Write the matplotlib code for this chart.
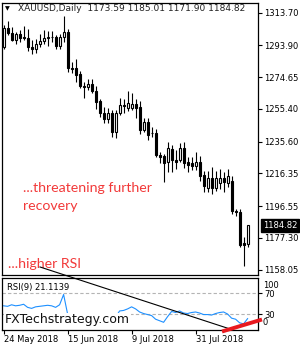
import numpy as np
import matplotlib
matplotlib.use("Agg")
import matplotlib.pyplot as plt

# --- XAUUSD daily, 24 May 2018 .. 17 Aug 2018 ---
opens = [1293.0, 1304.6, 1301.5, 1297.4, 1300.6, 1298.6, 1298.5, 1293.2, 1291.8, 1294.5,
         1296.8, 1298.1, 1298.9, 1298.7, 1293.5, 1298.9, 1302.2, 1280.5, 1280.0, 1276.5,
         1269.5, 1268.5, 1270.5, 1266.5, 1260.0, 1253.0, 1249.0, 1253.0, 1241.6, 1253.2,
         1258.0, 1256.0, 1256.2, 1258.6, 1256.5, 1242.5, 1247.5, 1241.0, 1241.0, 1227.5,
         1227.0, 1223.5, 1231.3, 1224.7, 1224.7, 1231.9, 1223.0, 1222.9, 1221.0, 1223.5,
         1215.5, 1207.5, 1213.5, 1207.5, 1210.5, 1213.5, 1210.5, 1211.5, 1193.5, 1193.0,
         1174.0, 1173.59]
highs = [1306.5, 1308.5, 1305.0, 1302.0, 1303.5, 1305.5, 1304.0, 1297.0, 1298.0, 1301.0,
         1303.0, 1302.5, 1302.5, 1300.5, 1301.0, 1311.5, 1304.0, 1284.0, 1285.5, 1278.5,
         1272.0, 1273.5, 1273.5, 1269.0, 1261.5, 1256.8, 1256.0, 1255.0, 1255.0, 1262.0,
         1261.5, 1266.5, 1265.0, 1261.5, 1260.0, 1250.0, 1250.0, 1244.5, 1243.0, 1229.0,
         1228.0, 1235.5, 1233.7, 1230.5, 1235.0, 1235.5, 1226.5, 1226.0, 1229.5, 1227.0,
         1218.0, 1218.0, 1220.0, 1218.0, 1219.0, 1217.4, 1219.0, 1214.5, 1195.0, 1195.0,
         1177.5, 1185.01]
lows = [1291.5, 1300.0, 1296.5, 1294.5, 1296.0, 1297.0, 1290.5, 1288.5, 1289.5, 1293.0,
        1295.0, 1293.5, 1296.0, 1291.5, 1292.0, 1296.0, 1277.5, 1277.0, 1271.5, 1268.0,
        1262.0, 1267.0, 1265.2, 1255.6, 1250.7, 1247.0, 1247.0, 1238.5, 1238.0, 1252.0,
        1253.0, 1254.0, 1255.0, 1250.0, 1240.5, 1241.5, 1236.8, 1238.5, 1226.0, 1222.9,
        1211.3, 1217.4, 1217.4, 1219.0, 1223.0, 1219.8, 1217.4, 1218.5, 1218.5, 1211.5,
        1205.0, 1205.0, 1204.0, 1205.5, 1207.0, 1205.3, 1208.0, 1191.5, 1190.5, 1171.5,
        1160.0, 1171.90]
closes = [1304.6, 1301.5, 1297.4, 1300.6, 1298.6, 1298.5, 1293.2, 1291.8, 1294.5, 1296.8,
          1298.1, 1298.9, 1298.7, 1293.5, 1298.9, 1302.2, 1280.5, 1279.7, 1276.0, 1269.0,
          1268.5, 1270.5, 1266.0, 1259.5, 1253.2, 1249.0, 1253.0, 1241.6, 1253.0, 1258.0,
          1257.3, 1259.0, 1258.6, 1256.0, 1242.5, 1247.5, 1239.5, 1240.6, 1227.4, 1226.5,
          1222.9, 1231.9, 1224.7, 1223.5, 1231.9, 1222.9, 1221.5, 1221.0, 1223.5, 1214.5,
          1208.5, 1213.5, 1207.5, 1213.5, 1213.5, 1211.0, 1214.5, 1193.6, 1193.0, 1173.2,
          1173.0, 1184.82]

rsi = [46, 45, 48, 46, 47, 49, 43, 41, 44, 45,
       46, 47, 46, 43, 48, 68, 30, 28, 25, 20,
       17, 22, 20, 16, 13, 11, 15, 12, 24, 36,
       37, 40, 44, 40, 34, 31, 29, 27, 20, 17,
       14, 25, 35, 33, 36, 32, 31, 33, 34, 32,
       29, 29, 28, 31, 33, 34, 30, 22, 20, 13,
       11, 21.1139]

price_ticks = [1313.70, 1293.90, 1274.65, 1255.40, 1235.60, 1216.35, 1196.55, 1177.30, 1158.05]
date_idx = [0, 16, 32, 48]
date_labels = ["24 May 2018", "15 Jun 2018", "9 Jul 2018", "31 Jul 2018"]

# hand-drawn trend lines (bar index, RSI units)
trend_x, trend_y = [9.1, 56.6], [121.4, 1.0]
red_x, red_y = [54.6, 64.6], [-3.9, 19.4]

W, H = 300, 350
RED = "#f23a3a"


def px_rect(l, t, r, b):
    return [l / W, 1 - b / H, (r - l) / W, (b - t) / H]


fig = plt.figure(figsize=(W / 100, H / 100), dpi=100)
ax = fig.add_axes(px_rect(2, 3, 258, 275))
ax2 = fig.add_axes(px_rect(2, 278, 258, 329.5))

o, h, l, c = map(np.array, (opens, highs, lows, closes))
x = np.arange(len(c))
up = c >= o
bot = np.minimum(o, c)
hgt = np.maximum(np.abs(c - o), 0.35)

ax.vlines(x, l, h, color="black", lw=0.8, zorder=2)
ax.bar(x[up], hgt[up], bottom=bot[up], width=0.55, color="white",
       edgecolor="black", lw=0.8, zorder=3)
ax.bar(x[~up], hgt[~up], bottom=bot[~up], width=0.55, color="black",
       edgecolor="black", lw=0.8, zorder=3)

ax.set_xlim(-0.4, 63.6)
ax.set_ylim(1154.75, 1319.6)
ax.yaxis.tick_right()
ax.set_yticks(price_ticks)
ax.set_yticklabels([f"{v:.2f}" for v in price_ticks])
ax.tick_params(axis="y", length=3, width=0.8, pad=1.5, labelsize=6)
ax.tick_params(axis="x", bottom=False, labelbottom=False)
for s in ax.spines.values():
    s.set_linewidth(0.9)

ax.text(0.012, 0.978, "\u25bc", transform=ax.transAxes, fontsize=4.5, va="center")
ax.text(0.064, 0.978, "XAUUSD,Daily  1173.59 1185.01 1171.90 1184.82",
        transform=ax.transAxes, fontsize=6.5, va="center", color="#222222")
ax.annotate(f"{closes[-1]:.2f}", xy=(1.0, closes[-1]), xycoords=("axes fraction", "data"),
            xytext=(3.5, 0), textcoords="offset points", va="center", ha="left",
            color="white", fontsize=6, annotation_clip=False,
            bbox=dict(boxstyle="square,pad=0.25", fc="black", ec="black"))

ax.text(4.75, 1205.2, "...threatening further", color=RED, fontsize=10.2,
        family="Lato", va="baseline")
ax.text(4.75, 1194.1, "recovery", color=RED, fontsize=10.2,
        family="Lato", va="baseline")
ax.text(1.2, 1158.8, "...higher RSI", color=RED, fontsize=10.2, family="Lato",
        va="baseline")

# RSI panel
ax2.plot(x, rsi, color="#1e90ff", lw=0.8, zorder=2)
for lvl in (70, 30):
    ax2.axhline(lvl, color="#b4b4b4", lw=0.8, ls=(0, (3, 2)), zorder=1)
ax2.set_xlim(-0.4, 63.6)
ax2.set_ylim(0, 100)
ax2.yaxis.tick_right()
ax2.set_yticks([70, 30])
ax2.set_yticklabels(["70", "30"])
ax2.tick_params(axis="y", length=3, width=0.8, pad=1.5, labelsize=6)
ax2.text(1.018, 85, "100", transform=ax2.get_yaxis_transform(), fontsize=6, va="center")
ax2.text(1.018, 13, "0", transform=ax2.get_yaxis_transform(), fontsize=6, va="center")
ax2.set_xticks(date_idx)
ax2.set_xticklabels(date_labels)
for lbl in ax2.get_xticklabels():
    lbl.set_ha("left")
ax2.tick_params(axis="x", length=3, width=0.8, pad=1, labelsize=6)
for s in ax2.spines.values():
    s.set_linewidth(0.9)

ax2.text(0.0195, 0.815, "RSI(9) 21.1139", transform=ax2.transAxes, fontsize=6, va="center")
ax2.text(0.012, 0.19, "FXTechstrategy.com", transform=ax2.transAxes, fontsize=9,
         va="center", color="#111111", zorder=5,
         bbox=dict(boxstyle="square,pad=0.05", fc="white", ec="none"))

ax2.plot(trend_x, trend_y, color="black", lw=0.8, clip_on=False, zorder=4)
ax2.plot(red_x, red_y, color="#e8191f", lw=2.8, clip_on=False, zorder=6,
         solid_capstyle="butt")

fig.savefig("out.png", dpi=100)
